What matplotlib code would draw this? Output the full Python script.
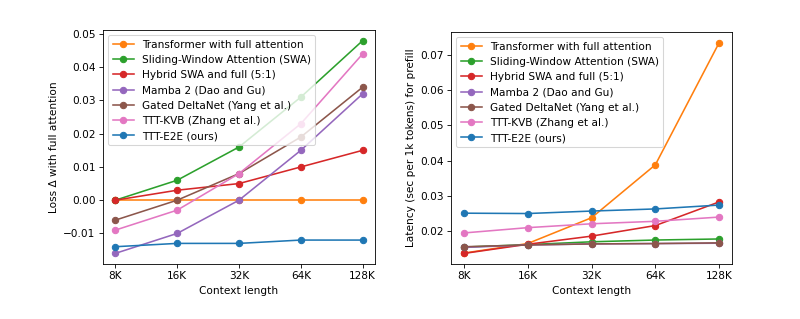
import numpy as np
import matplotlib
matplotlib.use('Agg')
import matplotlib.pyplot as plt

ctx = [8, 16, 32, 64, 128]
ctx_labels = ['8K', '16K', '32K', '64K', '128K']

names = ['Transformer with full attention',
         'Sliding-Window Attention (SWA)',
         'Hybrid SWA and full (5:1)',
         'Mamba 2 (Dao and Gu)',
         'Gated DeltaNet (Yang et al.)',
         'TTT-KVB (Zhang et al.)',
         'TTT-E2E (ours)']
colors = ['C1', 'C2', 'C3', 'C4', 'C5', 'C6', 'C0']

# loss delta vs full attention
loss_full = [0.0, 0.0, 0.0, 0.0, 0.0]
loss_swa = [0.0, 0.006, 0.016, 0.031, 0.048]
loss_hybrid = [0.0, 0.003, 0.005, 0.010, 0.015]
loss_mamba = [-0.016, -0.010, 0.0, 0.015, 0.032]
loss_gdn = [-0.006, 0.0, 0.008, 0.019, 0.034]
loss_kvb = [-0.009, -0.003, 0.008, 0.023, 0.044]
loss_e2e = [-0.014, -0.013, -0.013, -0.012, -0.012]

# prefill latency (sec per 1k tokens)
lat_full = [0.0138, 0.0165, 0.0238, 0.0388, 0.0734]
lat_swa = [0.0155, 0.0162, 0.0170, 0.0175, 0.0178]
lat_hybrid = [0.0137, 0.0163, 0.0186, 0.0216, 0.0283]
lat_mamba = [0.0154, 0.0161, 0.0164, 0.0165, 0.0166]
lat_gdn = [0.0156, 0.0161, 0.0164, 0.0165, 0.0167]
lat_kvb = [0.0195, 0.0210, 0.0221, 0.0228, 0.0240]
lat_e2e = [0.0251, 0.0250, 0.0257, 0.0263, 0.0274]

loss = [loss_full, loss_swa, loss_hybrid, loss_mamba, loss_gdn, loss_kvb, loss_e2e]
lat = [lat_full, lat_swa, lat_hybrid, lat_mamba, lat_gdn, lat_kvb, lat_e2e]

dpi = 76
fig = plt.figure(figsize=(800 / dpi, 319 / dpi), dpi=dpi)
ax1 = fig.add_axes([103 / 800, 55 / 319, 272 / 800, 234 / 319])
ax2 = fig.add_axes([451 / 800, 55 / 319, 281 / 800, 232 / 319])

for ax, data, ylab in [(ax1, loss, 'Loss \u0394 with full attention'),
                       (ax2, lat, 'Latency (sec per 1k tokens) for prefill')]:
    for name, c, y in zip(names, colors, data):
        ax.plot(ctx, y, marker='o', color=c, label=name)
    ax.set_xscale('log', base=2)
    ax.set_xticks(ctx)
    ax.set_xticklabels(ctx_labels)
    ax.minorticks_off()
    ax.set_xlabel('Context length')
    ax.set_ylabel(ylab)
    ax.legend(loc='upper left')

fig.savefig('out.png', dpi=dpi)
